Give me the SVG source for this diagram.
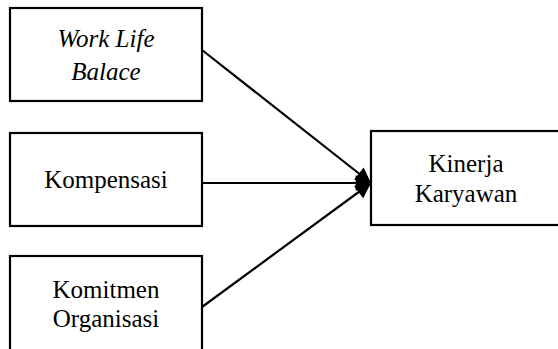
<svg xmlns="http://www.w3.org/2000/svg" width="558" height="349" viewBox="0 0 558 349">
<defs>
<style>
.box{fill:#fff;stroke:#000;stroke-width:2.2}
.t{font-family:"Liberation Serif","Times New Roman",serif;font-size:25px;fill:#000;text-anchor:middle}
.i{font-style:italic}
.c{stroke:#000;stroke-width:2.2;fill:none;marker-end:url(#ah)}
</style>
<marker id="ah" viewBox="0 0 10 10" refX="10" refY="5" markerWidth="7.5" markerHeight="7" markerUnits="strokeWidth" orient="auto">
<path d="M0,0 L10,5 L0,10 z" fill="#000"/>
</marker>
</defs>
<rect width="558" height="349" fill="#fff"/>
<g id="connectors">
<line class="c" x1="202" y1="50" x2="371" y2="183"/>
<line class="c" x1="202" y1="183" x2="371" y2="183"/>
<line class="c" x1="202" y1="307" x2="371" y2="183"/>
</g>
<g id="work-life-balance">
<rect class="box" x="10" y="8" width="192" height="93"/>
<text class="t i" x="106" y="47">Work Life</text>
<text class="t i" x="106" y="80">Balace</text>
</g>
<g id="kompensasi">
<rect class="box" x="10" y="133" width="192" height="93"/>
<text class="t" x="106" y="188">Kompensasi</text>
</g>
<g id="komitmen-organisasi">
<rect class="box" x="10" y="256" width="192" height="100"/>
<text class="t" x="106" y="298">Komitmen</text>
<text class="t" x="106" y="327">Organisasi</text>
</g>
<g id="kinerja-karyawan">
<rect class="box" x="371" y="131" width="190" height="94"/>
<text class="t" x="466" y="172">Kinerja</text>
<text class="t" x="466" y="202">Karyawan</text>
</g>
</svg>
